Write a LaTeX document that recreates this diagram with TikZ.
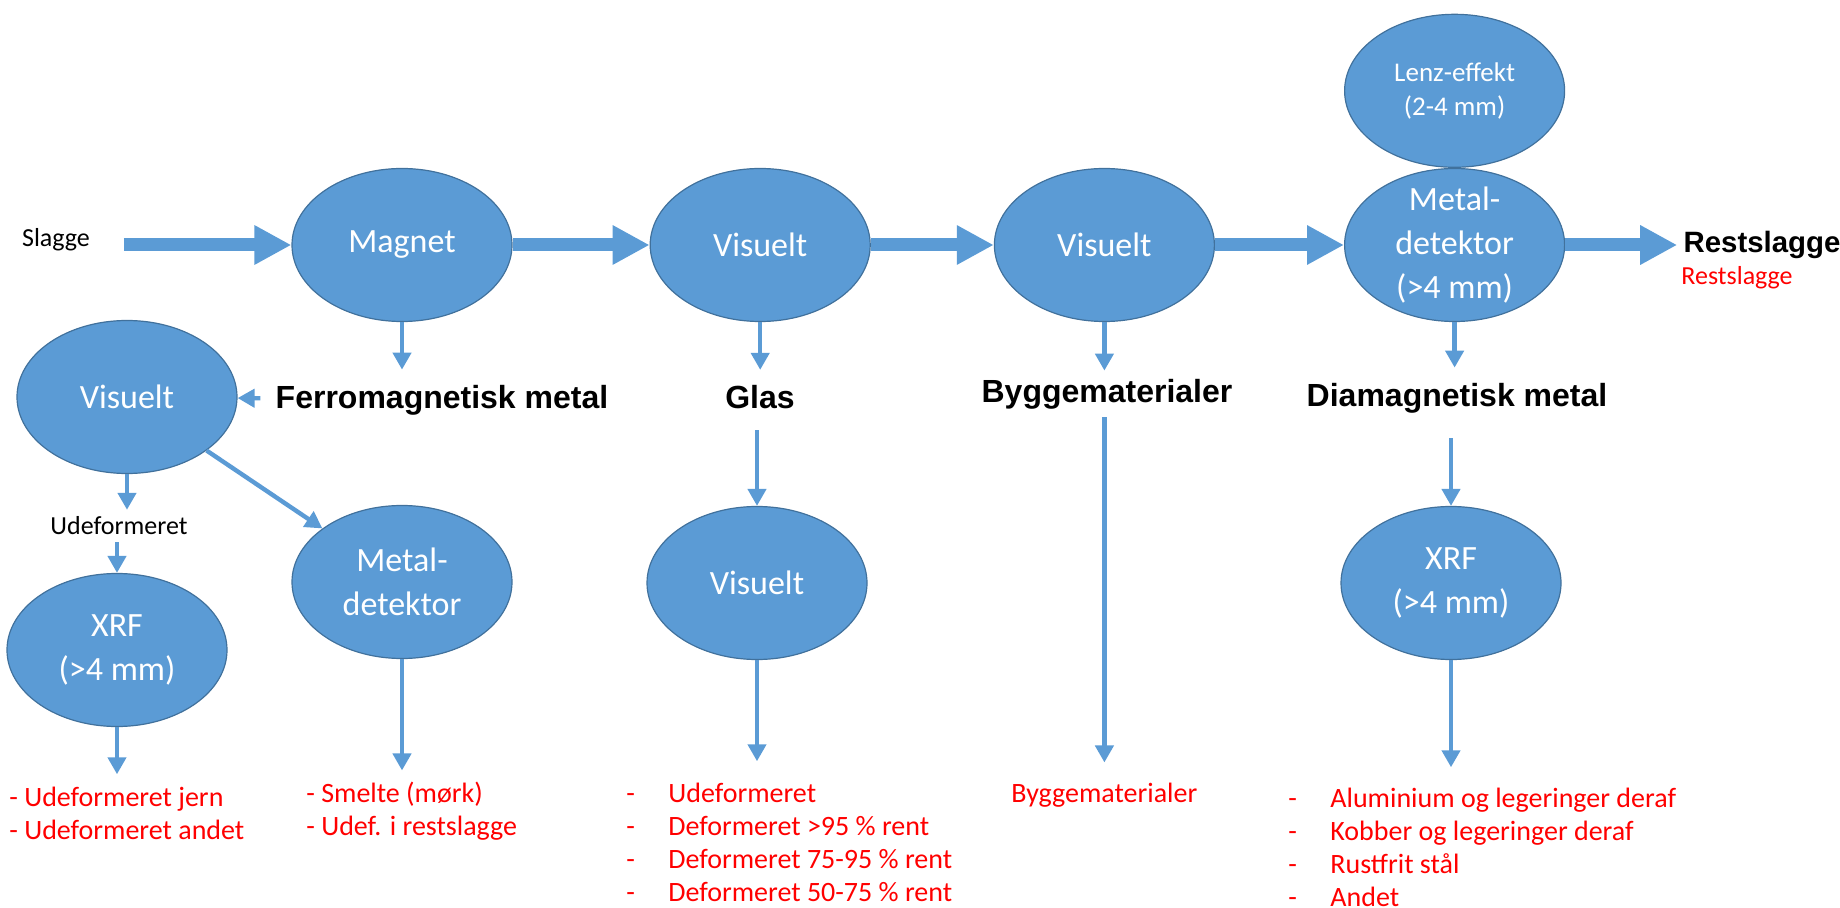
\documentclass[tikz,border=0pt]{standalone}
\usepackage{fontspec}
\setmainfont{Carlito}
\newfontfamily\headfont{Liberation Sans}
\usepackage{xcolor}
\usepackage{tikz}
\usetikzlibrary{arrows.meta, positioning, shapes.geometric}
\definecolor{blobfill}{HTML}{5B9BD5}
\definecolor{blobedge}{HTML}{41719C}
\definecolor{outred}{HTML}{FF0000}
\newcommand{\tabdash}[1]{\makebox[21pt][l]{-}#1}

\begin{document}
\begin{tikzpicture}[
    x=0.5pt, y=-0.5pt,
    blob/.style={ellipse, draw=blobedge, line width=0.6pt, fill=blobfill,
      minimum width=110pt, minimum height=76.5pt, inner sep=0pt,
      text=white, align=center, font=\fontsize{17}{22}\selectfont},
    small/.style={font=\fontsize{13.5}{17}\selectfont},
    head/.style={font=\headfont\bfseries\fontsize{16}{19}\selectfont, inner sep=7.5pt},
    plain/.style={font=\fontsize{13}{16}\selectfont},
    outlist/.style={text=outred, align=left, inner sep=0pt, anchor=west,
      font=\fontsize{14}{16.5}\selectfont},
    bigarr/.style={-{Triangle[length=18.5pt, width=18.5pt]}, blobfill, line width=6.5pt},
    arr/.style={-{Triangle[length=8.5pt, width=9pt]}, blobfill, line width=2.2pt}
  ]
  \useasboundingbox (0,0) rectangle (1840,908);

  \node[blob] (magnet) at (402,245) {Magnet};
  \node[blob, right=68.5pt of magnet] (vis2) {Visuelt};
  \node[blob, right=61.5pt of vis2] (vis3) {Visuelt};
  \node[blob, right=64.5pt of vis3, inner ysep=-6pt] (met1) {Metal-\\detektor\\(>4 mm)};
  \node[blob, small, above=0pt of met1] (lenz) {Lenz-effekt\\(2-4 mm)};

  \node[plain] (slagge) at (56,240) {Slagge};
  \node[head, font=\headfont\bfseries\fontsize{14.7}{17}\selectfont, inner sep=3pt,
    right=56pt of met1] (rest) {Restslagge};
  \node[outlist, plain] (restred) at (1681,278) {Restslagge};

  \node[head] (ferro) at (442,400) {Ferromagnetisk metal};
  \node[head] (glas) at (760,397) {Glas};
  \node[head, inner ysep=4pt] (bygg) at (1107,394) {Byggematerialer};
  \node[head] (diam) at (1457,398) {Diamagnetisk metal};

  \node[blob] (vis1) at (127,397) {Visuelt};
  \node[plain] (udef0) at (119,526) {Udeformeret};
  \node[blob] (xrf1) at (117,650) {XRF\\(>4 mm)};
  \node[blob] (det2) at (402,582) {Metal-\\detektor};
  \node[blob] (vis4) at (757,583) {Visuelt};
  \node[blob] (xrf2) at (1451,583) {XRF\\(>4 mm)};

  \node[outlist] (jern) at (9,813) {- Udeformeret jern\\- Udeformeret andet};
  \node[outlist] (smelte) at (306,811) {- Smelte (mørk)\\- Udef. i restslagge};
  \node[outlist] (udef) at (626,842) {\tabdash{Udeformeret}\\\tabdash{Deformeret >95 \% rent}\\
    \tabdash{Deformeret 75-95 \% rent}\\\tabdash{Deformeret 50-75 \% rent}};
  \node[outlist] (bygred) at (1011,795) {Byggematerialer};
  \node[outlist] (alu) at (1288,847) {\tabdash{Aluminium og legeringer deraf}\\
    \tabdash{Kobber og legeringer deraf}\\\tabdash{Rustfrit stål}\\\tabdash{Andet}};

  \draw[bigarr, shorten <=13.5pt] (slagge.east |- magnet) -- (magnet);
  \draw[bigarr] (magnet) -- (vis2);
  \draw[bigarr] (vis2) -- (vis3);
  \draw[bigarr] (vis3) -- (met1);
  \draw[bigarr] (met1) -- (rest);

  \draw[arr] (magnet) -- (magnet |- ferro.north);
  \draw[arr] (ferro) -- (vis1);
  \draw[arr] (vis1) -- (vis1 |- udef0.north);
  \draw[arr] (udef0.south -| xrf1) -- (xrf1);
  \draw[arr] (vis1) -- (det2);
  \draw[arr, shorten >=6pt] (xrf1) -- (xrf1 |- jern.north);
  \draw[arr, shorten >=5.5pt] (det2) -- (det2 |- smelte.north);
  \draw[arr] (vis2) -- (vis2 |- glas.north);
  \draw[arr, shorten <=3pt] (glas.south -| vis4) -- (vis4);
  \draw[arr, shorten >=10.5pt] (vis4) -- (vis4 |- udef.north);
  \draw[arr] (vis3) -- (vis3 |- bygg.north);
  \draw[arr, shorten >=10pt] (vis3 |- bygg.south) -- (vis3 |- bygred.north);
  \draw[arr] (met1) -- (met1 |- diam.north);
  \draw[arr, shorten <=5pt] (diam.south -| xrf2) -- (xrf2);
  \draw[arr, shorten >=10pt] (xrf2) -- (xrf2 |- alu.north);
\end{tikzpicture}
\end{document}
